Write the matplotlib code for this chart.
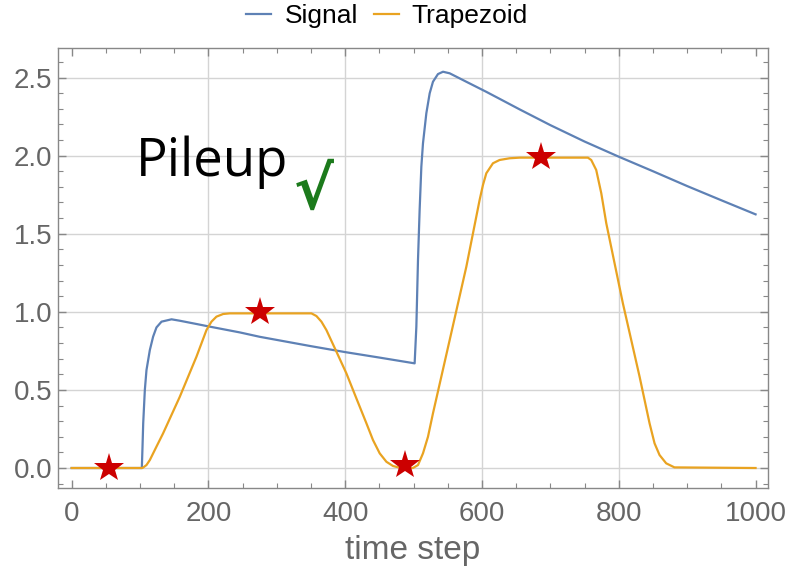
import matplotlib

matplotlib.use("Agg")
import matplotlib.pyplot as plt
from matplotlib.ticker import MultipleLocator, FormatStrFormatter

# Значения
signal_x = [0, 100, 102.6, 103.6, 104.6, 107, 109.4, 114.3, 119.1, 124, 131.4,
            146, 158, 182.5, 202, 246, 275, 300, 350, 400, 450, 501.5,
            504, 506.4, 508.8, 511.3, 513.7, 518.6, 523.5, 528.3, 535.6, 543,
            552.7, 577, 606, 626, 655, 700, 750, 800, 850, 900, 950, 1000]
signal_y = [0, 0, 0, 0.137, 0.286, 0.5, 0.627, 0.755, 0.841, 0.9, 0.937,
            0.952, 0.943, 0.922, 0.905, 0.868, 0.84, 0.82, 0.78, 0.742, 0.707, 0.67,
            0.905, 1.332, 1.652, 1.929, 2.079, 2.271, 2.399, 2.473, 2.522, 2.537,
            2.527, 2.473, 2.409, 2.363, 2.296, 2.195, 2.09, 1.993, 1.9, 1.805, 1.714, 1.624]

trap_x = [0, 103.6, 109.4, 114.3, 124, 133.7, 158.1, 182.5, 197.1, 204.4, 211.7,
          221.5, 231.2, 350.6, 357.9, 365.2, 372.5, 387.1, 401.7, 416.3, 431,
          440.6, 450.4, 460.2, 469.8, 479.6, 499, 506.4, 513.7, 521, 528.3,
          552.7, 577.1, 596.5, 601.4, 606.3, 616, 625.7, 640.4, 655, 754.8,
          759.7, 767, 774.4, 781.7, 806, 830.4, 845, 852.3, 859.6, 869.3, 881.4, 1000]
trap_y = [0, 0, 0.019, 0.051, 0.137, 0.222, 0.456, 0.713, 0.883, 0.937, 0.969,
          0.986, 0.99, 0.99, 0.973, 0.937, 0.883, 0.745, 0.606, 0.446, 0.286,
          0.179, 0.094, 0.04, 0.013, 0.002, 0, 0.019, 0.094, 0.2, 0.35,
          0.819, 1.289, 1.716, 1.812, 1.887, 1.951, 1.972, 1.983, 1.987, 1.987,
          1.972, 1.908, 1.759, 1.567, 1.054, 0.585, 0.286, 0.158, 0.083, 0.03, 0.004, 0]

star_x = [55, 276, 487, 686]
star_y = [0.0, 1.0, 0.02, 1.99]

x_grid = [200, 400, 600, 800]
y_grid = [0.0, 0.5, 1.0, 1.5, 2.0, 2.5]

BLUE = "#5E81B5"
ORANGE = "#E9A321"
GRAY = "#666666"

plt.rcParams["font.family"] = ["Liberation Sans", "DejaVu Sans"]

fig = plt.figure(figsize=(7.9, 5.69), dpi=100)
ax = fig.add_axes([0.0734, 0.1418, 0.8986, 0.7733])

# Сетка
for xv in x_grid:
    ax.axvline(xv, color="#D4D4D4", linewidth=1.0, zorder=0)
for yv in y_grid:
    ax.axhline(yv, color="#D4D4D4", linewidth=1.0, zorder=0)

ax.plot(signal_x, signal_y, color=BLUE, linewidth=1.6, label="Signal", zorder=2)
ax.plot(trap_x, trap_y, color=ORANGE, linewidth=1.6, label="Trapezoid", zorder=3)
ax.plot(star_x, star_y, linestyle="none", marker="*", markersize=22,
        color="#CC0000", markeredgewidth=0, zorder=4)

ax.text(94, 1.87, "Pileup", fontsize=38, family=["Open Sans", "DejaVu Sans"],
        color="black", va="baseline", ha="left", zorder=5)
ax.text(325, 1.66, "\u221a", fontsize=43, family="DejaVu Sans", fontweight="bold",
        color="#1C7A1C", va="baseline", ha="left", zorder=5)

ax.set_xlim(-20, 1018)
ax.set_ylim(-0.13, 2.687)

ax.xaxis.set_major_locator(MultipleLocator(200))
ax.xaxis.set_minor_locator(MultipleLocator(50))
ax.yaxis.set_major_locator(MultipleLocator(0.5))
ax.yaxis.set_minor_locator(MultipleLocator(0.1))
ax.yaxis.set_major_formatter(FormatStrFormatter("%.1f"))

ax.tick_params(which="both", direction="in", top=True, right=True,
               color="#888888", labelcolor=GRAY, labelsize=20)
ax.tick_params(which="major", length=6, width=1)
ax.tick_params(which="minor", length=3.5, width=0.8)
ax.tick_params(axis="x", which="major", pad=9)
ax.tick_params(axis="y", which="major", pad=4)
for sp in ax.spines.values():
    sp.set_color("#888888")
    sp.set_linewidth(1.0)

ax.set_xlabel("time step", fontsize=24, color=GRAY, labelpad=6)

fig.legend(loc="upper center", bbox_to_anchor=(0.49, 1.035), ncol=2,
           frameon=False, fontsize=19, handlelength=0.95, handletextpad=0.5,
           columnspacing=0.6)

plt.savefig("out.png", dpi=100)
